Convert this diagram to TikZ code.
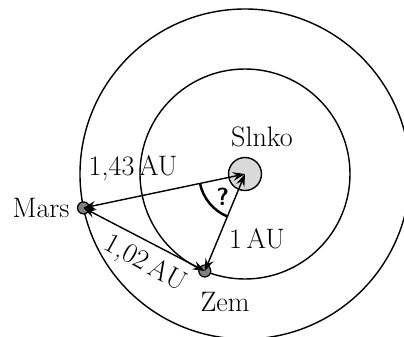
\documentclass[tikz,border=0pt]{standalone}
\usepackage{fontspec}
\usetikzlibrary{arrows.meta}
\begin{document}
\begin{tikzpicture}[
  font=\fontsize{16}{19}\selectfont,
  orbit/.style={line width=0.8pt},
  planet/.style={circle, draw, line width=0.7pt, fill=black!50, minimum size=0.24cm, inner sep=0pt},
  dist/.style={line width=0.8pt, {Stealth[length=7pt,width=5pt,inset=2.5pt]}-{Stealth[length=7pt,width=5pt,inset=2.5pt]}},
  lbl/.style={inner sep=1pt}
]
\useasboundingbox (-4.9,-3.24) rectangle (3.18,3.48);
\clip (-4.9,-3.24) rectangle (3.18,3.48);
\draw[orbit] (0,0) circle[radius=2.1cm];
\draw[orbit] (0,0) circle[radius=3.3cm];
\node[circle, draw, line width=0.8pt, fill=black!15, minimum size=0.66cm, inner sep=0pt] (sun) at (0,0) {};
\node[planet] (mars) at (191.85:3.3) {};
\node[planet] (earth) at (247.5:2.1) {};
\draw[line width=1.4pt] (sun.center) ++(191.85:0.92) arc[start angle=191.85, end angle=247.5, radius=0.92];
\draw[dist] (mars.center) -- (sun.center);
\draw[dist] (earth.center) -- (sun.center);
\draw[dist] (mars.center) -- (earth.center);
\node[lbl] (tsun) at (0.34,0.74) {Slnko};
\node[lbl, anchor=east, xshift=-3pt] (tmars) at (mars.west) {Mars};
\node[lbl] (tearth) at (-0.4,-2.56) {Zem};
\node[lbl] (d1) at (-2.24,0.12) {1,43\,AU};
\node[lbl] (d2) at (0.24,-1.3) {1\,AU};
\node[lbl, rotate=-29] (d3) at (-2.0,-1.8) {1,02\,AU};
\node[inner sep=0pt, font=\fontsize{14}{16}\selectfont\sffamily\bfseries] (q) at (226:0.64) {?};
\end{tikzpicture}
\end{document}
